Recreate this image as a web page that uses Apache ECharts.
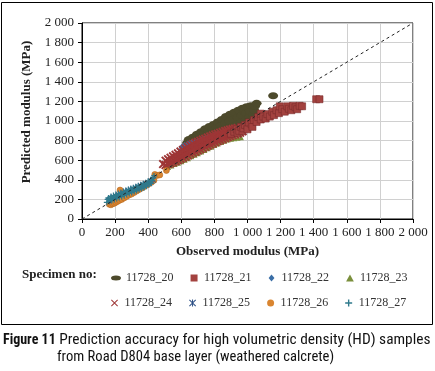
<!DOCTYPE html>
<html>
<head>
<meta charset="utf-8">
<script src="https://cdn.jsdelivr.net/npm/echarts@6.0.0/dist/echarts.min.js"></script>
<style>
  html, body { margin: 0; padding: 0; background: #fff; }
  #chart { width: 435px; height: 371px; }
</style>
</head>
<body>
<div id="chart"></div>
<script>
// axis ticks
const xTicks = [0, 200, 400, 600, 800, 1000, 1200, 1400, 1600, 1800, 2000]
const yTicks = [0, 200, 400, 600, 800, 1000, 1200, 1400, 1600, 1800, 2000]

const seriesNames = ["11728_20", "11728_21", "11728_22", "11728_23", "11728_24", "11728_25", "11728_26", "11728_27"]

// observed vs predicted modulus (MPa)
const s20 = [[635,775],[645,810],[660,795],[670,835],[685,810],[690,845],[695,865],[710,830],[715,860],[720,890],[735,845],[740,880],[745,920],[760,860],[765,900],[770,945],[785,870],[790,915],[795,965],[810,880],[815,935],[820,990],[835,895],[840,955],[845,1015],[860,910],[865,975],[870,1045],[885,930],[890,1000],[895,1070],[910,945],[915,1015],[920,1090],[935,965],[940,1035],[945,1110],[960,980],[965,1055],[970,1130],[985,1000],[990,1075],[995,1145],[1010,1035],[1015,1095],[1020,1155],[1035,1065],[1040,1110],[1045,1150],[1055,1180],[1155,1257]]
const s21 = [[900,870],[920,890],[935,915],[940,880],[950,900],[960,940],[970,895],[975,925],[985,960],[1000,945],[1000,915],[1010,985],[1025,965],[1030,940],[1040,1010],[1055,990],[1065,1040],[1080,1015],[1080,1075],[1095,1045],[1110,1025],[1120,1070],[1135,1045],[1150,1095],[1160,1060],[1175,1110],[1190,1080],[1195,1150],[1210,1120],[1225,1095],[1240,1150],[1250,1125],[1265,1110],[1275,1155],[1290,1140],[1300,1120],[1315,1155],[1330,1150],[1415,1222],[1435,1222]]
const s22 = [[600,705],[605,735],[615,720],[620,750],[630,735],[640,765],[650,745],[660,775],[670,760],[685,790],[700,790],[720,805],[740,815],[760,830],[780,840],[800,850],[820,858]]
const s23 = [[520,530],[540,545],[560,560],[580,575],[600,590],[620,605],[640,620],[660,640],[680,655],[700,670],[720,688],[740,705],[760,722],[780,738],[800,755],[820,770],[840,785],[860,798],[880,810],[900,818],[920,825],[940,830],[960,835],[840,880],[880,905]]
const s24 = [[490,560],[505,550],[505,595],[520,560],[520,610],[535,570],[535,625],[550,578],[550,640],[565,590],[565,622],[565,655],[580,600],[580,635],[580,670],[595,612],[595,650],[595,688],[610,624],[610,664],[610,704],[625,636],[625,678],[625,720],[640,649],[640,692],[640,735],[655,662],[655,706],[655,750],[670,675],[670,720],[670,765],[685,687],[685,732],[685,777],[700,699],[700,743],[700,787],[715,711],[715,755],[715,799],[730,724],[730,767],[730,810],[745,736],[745,778],[745,820],[760,748],[760,790],[760,832],[775,759],[775,801],[775,843],[790,771],[790,812],[790,853],[805,782],[805,822],[805,862],[820,794],[820,832],[820,870],[835,804],[835,842],[835,880],[850,815],[850,852],[850,889],[865,825],[865,862],[865,899],[880,835],[880,870],[880,905],[895,844],[895,878],[895,912],[910,854],[910,886],[910,918],[925,863],[925,893],[925,923],[940,872],[940,900],[940,928],[955,880],[955,907],[970,895]]
const s25 = [[160,190],[175,215],[190,225],[205,235],[220,250],[235,255],[250,265],[265,280],[280,290],[295,300],[310,305],[325,320],[340,330],[355,340],[370,350],[385,360],[400,370],[415,385],[430,400]]
const s26 = [[165,150],[175,145],[185,155],[195,160],[205,170],[215,180],[225,190],[240,200],[255,215],[270,230],[285,245],[300,255],[315,270],[330,285],[345,300],[360,315],[375,330],[390,345],[405,360],[420,375],[435,395],[230,295],[440,455],[455,445],[470,450],[510,495]]
const s27 = [[150,170],[155,200],[160,215],[165,180],[170,205],[175,230],[180,190],[185,215],[190,240],[195,200],[200,225],[205,250],[210,210],[215,235],[220,260],[225,220],[230,245],[235,270],[240,230],[245,255],[250,280],[255,240],[260,265],[265,290],[270,250],[275,275],[280,300],[285,260],[290,285],[295,310],[300,270],[305,295],[310,320],[315,280],[320,305],[325,330],[330,290],[335,315],[340,340],[345,300],[350,325],[355,350],[360,310],[365,335],[370,360],[375,320],[380,345],[385,370],[390,335],[395,360],[400,385],[405,350],[410,375],[415,400],[420,365],[425,395],[430,420],[435,440]]
const lineOfEquality = [[0, 0], [2000, 2000]]

const serif = "'Liberation Serif', 'DejaVu Serif', serif"
const narrow = "'Liberation Sans Narrow', 'Roboto Condensed', Roboto, sans-serif"

const icons = {
  oval: "path://M0,5A10,5,0,1,1,20,5A10,5,0,1,1,0,5Z",
  square: "path://M0,0H10V10H0Z",
  diamond: "path://M5,0L10,6L5,12L0,6Z",
  triangle: "path://M5,0L10,9L0,9Z",
  cross: "path://M1,0L5,4L9,0L10,1L6,5L10,9L9,10L5,6L1,10L0,9L4,5L0,1Z",
  star: "path://M1,0L5,4L9,0L10,1L6,5L10,9L9,10L5,6L1,10L0,9L4,5L0,1Z M4.3,0H5.7V10H4.3Z",
  circle: "path://M0,5A5,5,0,1,1,10,5A5,5,0,1,1,0,5Z",
  plus: "path://M4,0H6V4H10V6H6V10H4V6H0V4H4Z",
  bigCross: "path://M1.5,0L5,3.5L8.5,0L10,1.5L6.5,5L10,8.5L8.5,10L5,6.5L1.5,10L0,8.5L3.5,5L0,1.5Z"
}

function fmt(v) {
  if (v >= 1000) return Math.floor(v / 1000) + " " + String(v % 1000).padStart(3, "0")
  return String(v)
}

const chart = echarts.init(document.getElementById("chart"), null, { renderer: "canvas" })

function scatter(name, data, symbol, size, color, border) {
  return {
    name: name,
    type: "scatter",
    data: data,
    symbol: symbol,
    symbolSize: size,
    itemStyle: { color: color, borderColor: border || color, borderWidth: border ? 0.6 : 0, opacity: 1 }
  }
}

const legendBase = {
  itemWidth: 10, itemHeight: 7, itemGap: 17, symbolKeepAspect: true,
  itemStyle: { borderWidth: 0 },
  textStyle: { fontFamily: serif, fontSize: 12, color: "#333" }
}

const option = {
  animation: false,
  backgroundColor: "#fff",
  grid: { left: 82, right: 22, top: 23, bottom: 152, show: true, borderColor: "#000", borderWidth: 1 },
  xAxis: {
    type: "value", min: 0, max: 2000, interval: 200,
    name: "Observed modulus (MPa)", nameLocation: "middle", nameGap: 26,
    nameTextStyle: { fontFamily: serif, fontWeight: "bold", fontSize: 13, color: "#222" },
    axisLine: { show: true, lineStyle: { color: "#000", width: 1 } },
    axisTick: { show: true, length: 4, lineStyle: { color: "#000" } },
    axisLabel: { formatter: fmt, fontFamily: serif, fontSize: 13, color: "#222", margin: 7, showMaxLabel: true, hideOverlap: false },
    splitLine: { show: true, lineStyle: { color: "#d0d0d0", width: 1 } }
  },
  yAxis: {
    type: "value", min: 0, max: 2000, interval: 200,
    axisLine: { show: true, lineStyle: { color: "#000", width: 1 } },
    axisTick: { show: true, length: 4, lineStyle: { color: "#000" } },
    axisLabel: { formatter: fmt, fontFamily: serif, fontSize: 13, color: "#222", margin: 8 },
    splitLine: { show: true, lineStyle: { color: "#d0d0d0", width: 1 } }
  },
  legend: [
    Object.assign({}, legendBase, {
      data: seriesNames.slice(0, 4).map((n, i) => ({ name: n, icon: [icons.oval, icons.square, icons.diamond, icons.triangle][i] })),
      left: 106, top: 267
    }),
    Object.assign({}, legendBase, {
      data: seriesNames.slice(4).map((n, i) => ({ name: n, icon: [icons.cross, icons.star, icons.circle, icons.plus][i] })),
      left: 106, top: 292
    })
  ],
  graphic: [
    { type: "rect", shape: { x: 1.5, y: 2.5, width: 431, height: 322 }, style: { fill: "none", stroke: "#000", lineWidth: 1 }, silent: true },
    { type: "text", x: 27, y: 112, rotation: Math.PI / 2,
      style: { text: "Predicted modulus (MPa)", font: "bold 13px " + serif, fill: "#222", textAlign: "center", textVerticalAlign: "middle" } },
    { type: "text", x: 22, y: 275,
      style: { text: "Specimen no:", font: "bold 13px " + serif, fill: "#222", textAlign: "left", textVerticalAlign: "middle" } },
    { type: "text", x: 3, y: 340,
      style: {
        text: "{b|Figure 11} Prediction accuracy for high volumetric density (HD) samples",
        font: "15.4px " + narrow, fill: "#111",
        textVerticalAlign: "middle",
        rich: { b: { fontWeight: "bold", fontFamily: narrow, fontSize: 14, fill: "#111" } }
      } },
    { type: "text", x: 57, y: 357,
      style: { text: "from Road D804 base layer (weathered calcrete)", font: "14.6px " + narrow, fill: "#111", textVerticalAlign: "middle" } }
  ],
  series: [
    { name: "equality", type: "line", data: lineOfEquality, symbol: "none", silent: true,
      lineStyle: { color: "#222", width: 1, type: [3, 3] } },
    scatter("11728_23", s23, icons.triangle, 6, "#7a8f3c"),
    scatter("11728_20", s20, icons.oval, [10, 7], "#4d4a2c"),
    scatter("11728_22", s22, icons.diamond, 7, "#3a6ea6"),
    scatter("11728_24", s24, icons.bigCross, 9, "#9e3636"),
    scatter("11728_21", s21, icons.square, 7, "#a3423f", "#7b2b2b"),
    scatter("11728_26", s26, icons.circle, 6, "#d98530", "#b86a20"),
    scatter("11728_25", s25, icons.star, 6, "#2c4f85"),
    scatter("11728_27", s27, icons.plus, 6, "#2f7a8c")
  ]
}

chart.setOption(option)
</script>
</body>
</html>
